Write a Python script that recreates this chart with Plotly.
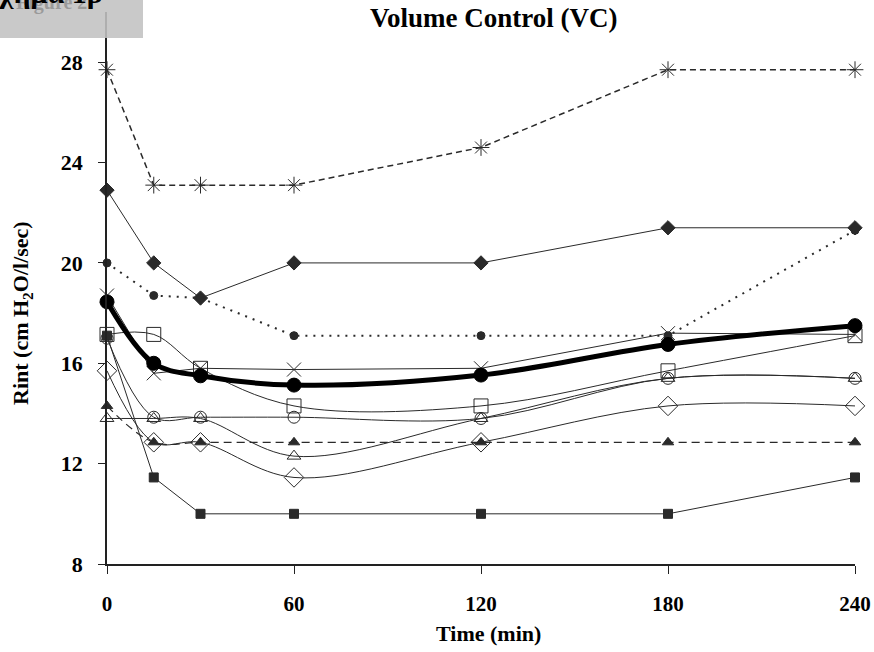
import plotly.graph_objects as go

time_min = [0, 15, 30, 60, 120, 180, 240]

asterisk_s   = [27.7, 23.1, 23.1, 23.1, 24.6, 27.7, 27.7]
fdiamond_s   = [22.9, 20.0, 18.6, 20.0, 20.0, 21.4, 21.4]
dotcircle_s  = [20.0, 18.7, 18.6, 17.1, 17.1, 17.1, 21.3]
xmark_s      = [18.7, 15.6, 15.8, 15.75, 15.8, 17.2, 17.15]
osquare_s    = [17.15, 17.15, 15.8, 14.3, 14.3, 15.7, 17.1]
ocircle_s    = [17.0, 13.85, 13.85, 13.85, 13.8, 15.4, 15.4]
otriangle_s  = [13.8, 13.8, 13.8, 12.3, 13.8, 15.4, 15.4]
odiamond_s   = [15.7, 12.85, 12.85, 11.45, 12.85, 14.3, 14.3]
ftriangle_s  = [14.3, 12.85, 12.85, 12.85, 12.85, 12.85, 12.85]
fsquare_s    = [17.1, 11.45, 10.0, 10.0, 10.0, 10.0, 11.45]
mean_s       = [18.45, 16.0, 15.5, 15.13, 15.53, 16.75, 17.5]

x_ticks = [0, 60, 120, 180, 240]
y_ticks = [8, 12, 16, 20, 24, 28]

LC = "#2a2a2a"
fig = go.Figure()

def add(y, symbol, msize, dash="solid", width=1, shape="linear", mline=1, mcolor=LC, lcolor=LC):
    fig.add_trace(go.Scatter(
        x=time_min, y=y, mode="lines+markers",
        line=dict(color=lcolor, width=width, dash=dash, shape=shape),
        marker=dict(symbol=symbol, size=msize, color=mcolor,
                    line=dict(color=lcolor, width=mline)),
        showlegend=False, cliponaxis=False))

add(asterisk_s, "asterisk-open", 14, dash="6px,4px", width=1.5)
add(fdiamond_s, "diamond", 11)
add(dotcircle_s, "circle", 8, dash="2px,6px", width=2)
add(fsquare_s, "square", 9)
add(ftriangle_s, "triangle-up", 10, dash="8px,5px", width=1.2, shape="spline")
add(odiamond_s, "diamond-open", 15, shape="spline")
add(otriangle_s, "triangle-up-open", 12, shape="spline")
add(ocircle_s, "circle-open", 12, shape="spline")
add(osquare_s, "square-open", 14, shape="spline")
add(xmark_s, "x-thin-open", 14)
add(mean_s, "circle", 14, width=5, shape="spline", mcolor="#000", lcolor="#000")

serif = "Liberation Serif"
fig.update_layout(
    width=874, height=652,
    margin=dict(l=107, r=19, t=12, b=88),
    paper_bgcolor="white", plot_bgcolor="white",
    font=dict(family=serif, color="black"),
    xaxis=dict(range=[0, 240], tickvals=x_ticks, ticks="outside", ticklen=8,
               tickcolor="#222", showgrid=False, zeroline=False, automargin=False,
               showline=True, linecolor="#222", linewidth=1.5,
               tickfont=dict(family=serif, size=21, color="black", weight="bold"),
               ticklabelstandoff=12),
    yaxis=dict(range=[8, 30], tickvals=y_ticks, ticks="outside", ticklen=7,
               tickcolor="#222", showgrid=False, zeroline=False, automargin=False,
               showline=True, linecolor="#222", linewidth=1.5,
               tickfont=dict(family=serif, size=22, color="black", weight="bold"),
               ticklabelstandoff=11),
    shapes=[dict(type="rect", xref="paper", yref="paper",
                 x0=-0.15, x1=(143 - 107) / 748, y0=(564 - 38) / 552, y1=1.03,
                 fillcolor="rgba(193,193,193,0.88)", line=dict(width=0), layer="above")],
    annotations=[
        dict(text="Volume Control (VC)", xref="paper", yref="paper",
             x=(494 - 107) / 748, y=(564 - 18) / 552, xanchor="center", yanchor="middle",
             showarrow=False,
             font=dict(family=serif, size=27, color="black", weight="bold")),
        dict(text="Time (min)", xref="paper", yref="paper",
             x=(488 - 107) / 748, y=(564 - 633) / 552, xanchor="center", yanchor="middle",
             showarrow=False,
             font=dict(family=serif, size=22, color="black", weight="bold")),
        dict(text="Rint (cm H<sub>2</sub>O/l/sec)", xref="paper", yref="paper",
             x=(22 - 107) / 748, y=(564 - 313) / 552, xanchor="center", yanchor="middle",
             showarrow=False, textangle=-90,
             font=dict(family=serif, size=22, color="black", weight="bold")),
        dict(text="Figure 2", xref="paper", yref="paper",
             x=(14 - 107) / 748, y=(564 - 16) / 552, xanchor="left", yanchor="bottom",
             showarrow=False, font=dict(family=serif, size=20, color="#9a9a9a", weight="bold")),
        dict(text="Σχήμα 1β", xref="paper", yref="paper",
             x=(-22 - 107) / 748, y=(564 - 11) / 552, xanchor="left", yanchor="bottom",
             showarrow=False, font=dict(family=serif, size=30, color="black", weight="bold")),
    ],
)

fig.write_html("out.html")
